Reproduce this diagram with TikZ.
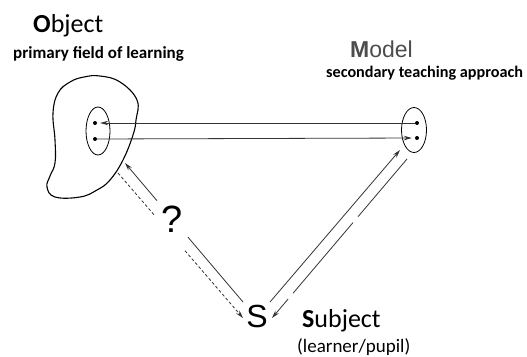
\documentclass[tikz,border=0pt]{standalone}
\usepackage{fontspec}
\setmainfont{Carlito}
\newfontfamily\arialf{Liberation Sans}
\usetikzlibrary{shapes.geometric,arrows.meta,calc}
\begin{document}
\begin{tikzpicture}[x=1pt,y=-1pt,
  lbl/.style={inner sep=0pt,anchor=base west},
  ln/.style={draw=black!80,line width=0.8pt},
  tip/.style={-{Stealth[length=8pt,width=4.5pt]}},
  dashln/.style={ln,dash pattern=on 3pt off 2.2pt},
  dotn/.style={circle,fill=black,inner sep=0pt,minimum size=4pt},
  ell/.style={ellipse,draw=black,line width=0.8pt,inner sep=0pt}]
\useasboundingbox (0,0) rectangle (527,356);
% texts
\node[lbl] (objT) at (33,32) {\fontsize{26}{26}\selectfont\textbf{O}bject};
\node[lbl] (objS) at (13,58) {\fontsize{17}{17}\selectfont\textbf{primary field of learning}};
\node[lbl,text=black!70] (modT) at (350,57) {\arialf\fontsize{23}{23}\selectfont\textbf{M}odel};
\node[lbl] (modS) at (326,77) {\fontsize{16.2}{16.2}\selectfont\textbf{secondary teaching approach}};
\node[lbl] (subT) at (302,327) {\fontsize{26}{26}\selectfont\textbf{S}ubject};
\node[lbl] (subS) at (297,352) {\fontsize{19}{19}\selectfont(learner/pupil)};
\node[inner sep=0pt] (S) at (257,316) {\arialf\fontsize{32}{32}\selectfont S};
\node[inner sep=0pt] (Q) at (172,219) {\arialf\fontsize{38}{38}\selectfont ?};
% object blob
\draw[line width=1.1pt] plot[smooth cycle,tension=0.7] coordinates {
 (100,76) (120,82) (137,100) (136,120) (133,135) (123,160) (110,180) (97,190)
 (80,197) (55,197) (47,187) (50,176) (55,163) (55,140) (53,113) (58,93) (70,82) (84,77)};
\node[ell,minimum width=24pt,minimum height=48pt] (oE) at (98,131) {};
\node[ell,minimum width=25pt,minimum height=45pt] (mE) at (414,130) {};
\node[dotn] (od1) at (95,123) {};
\node[dotn] (od2) at (95,139) {};
\node[dotn] (md1) at (417,123) {};
\node[dotn] (md2) at (417,138) {};
% horizontal connectors
\draw[ln,tip,shorten >=3pt] (md1) -- (od1);
\draw[ln,tip,shorten >=3pt] (od2) -- (md2);
% left pair
\coordinate (lsA) at (243,302);
\coordinate (lsB) at (125,163);
\draw[ln] (lsA) -- ($(lsA)!0.466!(lsB)$);
\draw[ln,tip] ($(lsA)!0.729!(lsB)$) -- (lsB);
\coordinate (ldA) at (118,173);
\coordinate (ldB) at (243,318);
\draw[dashln] (ldA) -- ($(ldA)!0.296!(ldB)$);
\draw[dashln,tip] ($(ldA)!0.536!(ldB)$) -- (ldB);
% right pair
\coordinate (rsA) at (270,302);
\coordinate (rsB) at (400,150);
\draw[ln,tip] (rsA) -- (rsB);
\coordinate (rdA) at (407,159);
\coordinate (rdB) at (272,318);
\draw[ln] (rdA) -- ($(rdA)!0.363!(rdB)$);
\draw[ln] ($(rdA)!0.40!(rdB)$) -- ($(rdA)!0.844!(rdB)$);
\draw[ln,tip] ($(rdA)!0.881!(rdB)$) -- (rdB);
\end{tikzpicture}
\end{document}
